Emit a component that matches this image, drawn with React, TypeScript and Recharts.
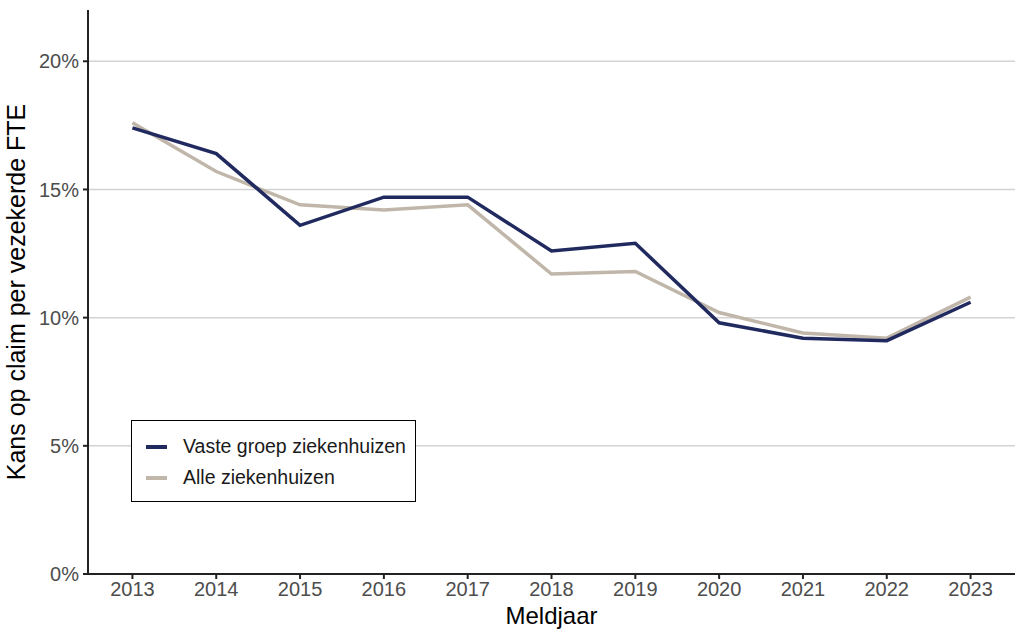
import React from "react";
import { LineChart, Line, XAxis, YAxis, CartesianGrid } from "recharts";

const years = [2013, 2014, 2015, 2016, 2017, 2018, 2019, 2020, 2021, 2022, 2023];
const vasteGroep = [0.174, 0.164, 0.136, 0.147, 0.147, 0.126, 0.129, 0.098, 0.092, 0.091, 0.106];
const alleZiekenhuizen = [0.176, 0.157, 0.144, 0.142, 0.144, 0.117, 0.118, 0.102, 0.094, 0.092, 0.108];
const yTicks = [0, 0.05, 0.1, 0.15, 0.2];

const NAVY = "#212a5f";
const BEIGE = "#c0b7aa";
const FONT = "'Liberation Sans', Arial, sans-serif";

const data = years.map((year, i) => ({
  year,
  vaste: vasteGroep[i],
  alle: alleZiekenhuizen[i],
}));

const formatPct = (v: number) => `${Math.round(v * 100)}%`;

const legendItems = [
  { label: "Vaste groep ziekenhuizen", color: NAVY },
  { label: "Alle ziekenhuizen", color: BEIGE },
];

// legend sits inside the panel, so it is drawn as an overlay
const LegendBox = () => (
  <div
    style={{
      position: "absolute",
      left: 131,
      top: 420,
      width: 285,
      height: 82,
      border: "1.5px solid #000",
      boxSizing: "border-box",
      background: "#fff",
      padding: "10px 0 0 14px",
      fontFamily: FONT,
    }}
  >
    {legendItems.map((item) => (
      <div
        key={item.label}
        style={{ display: "flex", alignItems: "center", height: 31 }}
      >
        <span
          style={{
            display: "inline-block",
            width: 21,
            height: 4,
            background: item.color,
            marginRight: 16,
          }}
        />
        <span style={{ fontSize: 19.5, color: "#1a1a1a" }}>{item.label}</span>
      </div>
    ))}
  </div>
);

const App: React.FC = () => {
  return (
    <div
      style={{
        position: "fixed",
        left: 0,
        top: 0,
        width: 1024,
        height: 640,
        background: "#fff",
        fontFamily: FONT,
      }}
    >
      <LineChart
        width={1024}
        height={640}
        data={data}
        margin={{ top: 10, right: 9, left: 0, bottom: 0 }}
      >
        <CartesianGrid
          vertical={false}
          horizontalValues={yTicks}
          stroke="#d3d3d3"
          strokeWidth={1.5}
        />
        <XAxis
          dataKey="year"
          type="number"
          domain={[2012.47, 2023.53]}
          ticks={years}
          height={66}
          tickSize={5}
          tickMargin={3}
          stroke="#222"
          strokeWidth={2}
          tick={{ fill: "#4d4d4d", fontSize: 20, fontFamily: FONT }}
          allowDataOverflow
          label={{
            value: "Meldjaar",
            position: "insideBottom",
            offset: 16,
            fill: "#000",
            fontSize: 24,
            fontFamily: FONT,
          }}
        />
        <YAxis
          type="number"
          domain={[0, 0.22]}
          ticks={yTicks}
          width={88}
          tickSize={5}
          tickMargin={4}
          tickFormatter={formatPct}
          stroke="#222"
          strokeWidth={2}
          tick={{ fill: "#4d4d4d", fontSize: 20, fontFamily: FONT }}
          allowDataOverflow
          label={{
            value: "Kans op claim per vezekerde FTE",
            angle: -90,
            position: "insideLeft",
            offset: 16,
            fill: "#000",
            fontSize: 25,
            fontFamily: FONT,
            style: { textAnchor: "middle" },
          }}
        />
        <Line
          type="linear"
          dataKey="alle"
          name="Alle ziekenhuizen"
          stroke={BEIGE}
          strokeWidth={3.5}
          dot={false}
          isAnimationActive={false}
        />
        <Line
          type="linear"
          dataKey="vaste"
          name="Vaste groep ziekenhuizen"
          stroke={NAVY}
          strokeWidth={3.5}
          dot={false}
          isAnimationActive={false}
        />
      </LineChart>
      <LegendBox />
    </div>
  );
};

export default App;
